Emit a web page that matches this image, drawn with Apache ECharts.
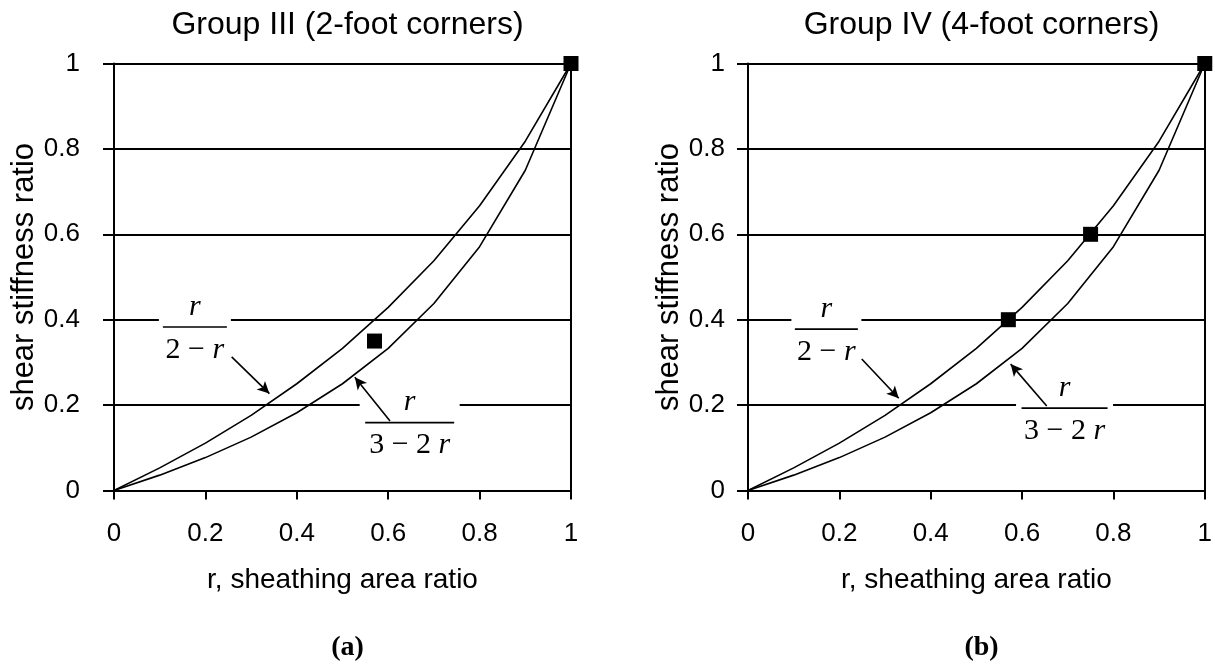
<!DOCTYPE html>
<html>
<head>
<meta charset="utf-8">
<script src="https://cdn.jsdelivr.net/npm/echarts@6/dist/echarts.min.js"></script>
<style>
html,body{margin:0;padding:0;background:#fff;}
#c{width:1215px;height:666px;}
</style>
</head>
<body>
<div id="c"></div>
<script>
// ---- data ----
const rValues = [0, 0.1, 0.2, 0.3, 0.4, 0.5, 0.6, 0.7, 0.8, 0.9, 1];
const curveTwoMinusR = [0, 0.053, 0.111, 0.176, 0.25, 0.333, 0.429, 0.538, 0.667, 0.818, 1];   // r/(2-r)
const curveThreeMinusTwoR = [0, 0.036, 0.077, 0.125, 0.182, 0.25, 0.333, 0.438, 0.571, 0.75, 1]; // r/(3-2r)
const groupIIIPoints = [[0.57, 0.35], [1, 1]];
const groupIVPoints = [[0.57, 0.40], [0.75, 0.60], [1, 1]];
const panelTitles = ['Group III (2-foot corners)', 'Group IV (4-foot corners)'];
const panelTags = ['(a)', '(b)'];
const xAxisName = 'r, sheathing area ratio';
const yAxisName = 'shear stiffness ratio';
const xTicks = [0, 0.2, 0.4, 0.6, 0.8, 1];
const yTicks = [0, 0.2, 0.4, 0.6, 0.8, 1];

// annotation anchors (data coords)
const arrowsIII = [[[0.2575, 0.313], [0.340, 0.227]], [[0.604, 0.163], [0.527, 0.265]]];
const arrowsIV = [[[0.249, 0.308], [0.330, 0.216]], [[0.654, 0.198], [0.575, 0.296]]];
const fracIII = [{at: [0.177, 0.383], den: '2 − {i|r}', w: 72, lw: 64}, {at: [0.647, 0.159], den: '3 − 2 {i|r}', w: 100, lw: 89}];
const fracIV = [{at: [0.1716, 0.378], den: '2 − {i|r}', w: 70, lw: 63}, {at: [0.693, 0.193], den: '3 − 2 {i|r}', w: 97, lw: 86}];

const SANS = 'Arial, "Liberation Sans", sans-serif';
const SERIF = '"Times New Roman", "Liberation Serif", serif';

const chart = echarts.init(document.getElementById('c'), null, {renderer: 'canvas'});

const grids = [
  {left: 114, right: 644, top: 63.5, bottom: 175.5},
  {left: 748, right: 9.5, top: 63.5, bottom: 175.5}
];

function xAxisFor(i) {
  return {
    type: 'value', gridIndex: i, min: 0, max: 1, interval: 0.2,
    name: xAxisName, nameLocation: 'middle', nameGap: 76,
    nameTextStyle: {fontFamily: SANS, fontSize: 28, color: '#000'},
    axisLine: {show: true, onZero: false, lineStyle: {color: '#000', width: 2}},
    axisTick: {show: true, length: 9, lineStyle: {color: '#000', width: 2}},
    axisLabel: {margin: 30, fontFamily: SANS, fontSize: 26, color: '#000'},
    splitLine: {show: false}
  };
}
function yAxisFor(i, labelMargin, gap) {
  return {
    type: 'value', gridIndex: i, min: 0, max: 1, interval: 0.2,
    name: yAxisName, nameLocation: 'middle', nameGap: gap,
    nameTextStyle: {fontFamily: SANS, fontSize: 31, color: '#000'},
    axisLine: {show: true, onZero: false, lineStyle: {color: '#000', width: 2}},
    axisTick: {show: true, length: 11, lineStyle: {color: '#000', width: 2}},
    axisLabel: {margin: labelMargin, fontFamily: SANS, fontSize: 26, color: '#000'},
    splitLine: {show: true, lineStyle: {color: '#000', width: 2}}
  };
}
function rightBorderFor(i) {
  return {
    type: 'value', gridIndex: i, min: 0, max: 1, position: 'right',
    axisLine: {show: true, onZero: false, lineStyle: {color: '#000', width: 2}},
    axisTick: {show: false}, axisLabel: {show: false}, splitLine: {show: false}
  };
}

function pairs(xs, ys) { return xs.map((x, k) => [x, ys[k]]); }

function arrowLines(arr) {
  return arr.map(a => [{coord: a[0], symbol: 'none'}, {coord: a[1], symbol: 'arrow'}]);
}

function curveSeries(i, ys, arrows) {
  const s = {
    type: 'line', xAxisIndex: i, yAxisIndex: i * 2, data: pairs(rValues, ys),
    showSymbol: false, symbol: 'none', clip: false,
    lineStyle: {color: '#000', width: 1.6}, z: 3, silent: true
  };
  if (arrows) {
    s.markLine = {
      silent: true, symbol: ['none', 'arrow'], symbolSize: [9, 12],
      label: {show: false},
      lineStyle: {color: '#000', width: 1.6, type: 'solid', opacity: 1},
      data: arrowLines(arrows), animation: false
    };
  }
  return s;
}

function pointSeries(i, pts) {
  return {
    type: 'scatter', xAxisIndex: i, yAxisIndex: i * 2, data: pts,
    symbol: 'rect', symbolSize: 15, clip: false,
    itemStyle: {color: '#000', opacity: 1}, z: 4, silent: true
  };
}

const option = {
  animation: false,
  backgroundColor: '#fff',
  title: [
    {text: panelTitles[0], left: 342.5, top: 4, textAlign: 'center', textStyle: {fontFamily: SANS, fontSize: 32, fontWeight: 'normal', color: '#000'}},
    {text: panelTitles[1], left: 976.5, top: 4, textAlign: 'center', textStyle: {fontFamily: SANS, fontSize: 32, fontWeight: 'normal', color: '#000'}},
    {text: panelTags[0], left: 342.5, top: 629, textAlign: 'center', textStyle: {fontFamily: SERIF, fontSize: 28, fontWeight: 'bold', color: '#000'}},
    {text: panelTags[1], left: 976.5, top: 629, textAlign: 'center', textStyle: {fontFamily: SERIF, fontSize: 28, fontWeight: 'bold', color: '#000'}}
  ],
  grid: grids,
  xAxis: [xAxisFor(0), xAxisFor(1)],
  yAxis: [yAxisFor(0, 34, 73), rightBorderFor(0), yAxisFor(1, 23, 62), rightBorderFor(1)],
  series: [
    curveSeries(0, curveTwoMinusR, arrowsIII),
    curveSeries(0, curveThreeMinusTwoR, null),
    pointSeries(0, groupIIIPoints),
    curveSeries(1, curveTwoMinusR, arrowsIV),
    curveSeries(1, curveThreeMinusTwoR, null),
    pointSeries(1, groupIVPoints)
  ]
};
chart.setOption(option);

function fractionGroup(gridIndex, f) {
  const p = chart.convertToPixel({gridIndex: gridIndex}, f.at);
  const FS = 30;
  const rich = {i: {fontStyle: 'italic', fontFamily: SERIF, fontSize: FS, color: '#000'}};
  return {
    type: 'group', x: p[0], y: p[1], z: 1,
    children: [
      {type: 'rect', shape: {x: -f.w / 2, y: -36, width: f.w, height: 76}, style: {fill: '#fff'}, z: 1},
      {type: 'line', shape: {x1: -f.lw / 2, y1: 0, x2: f.lw / 2, y2: 0}, style: {stroke: '#000', lineWidth: 1.6}, z: 2},
      {type: 'text', x: 0, y: -20, z: 2, style: {text: '{i|r}', rich: rich, align: 'center', verticalAlign: 'middle', fontFamily: SERIF, fontSize: FS, fill: '#000'}},
      {type: 'text', x: 0, y: 23, z: 2, style: {text: f.den, rich: rich, align: 'center', verticalAlign: 'middle', fontFamily: SERIF, fontSize: FS, fill: '#000'}}
    ]
  };
}

const graphics = [];
fracIII.forEach(f => graphics.push(fractionGroup(0, f)));
fracIV.forEach(f => graphics.push(fractionGroup(1, f)));
chart.setOption({graphic: {elements: graphics}});
</script>
</body>
</html>
